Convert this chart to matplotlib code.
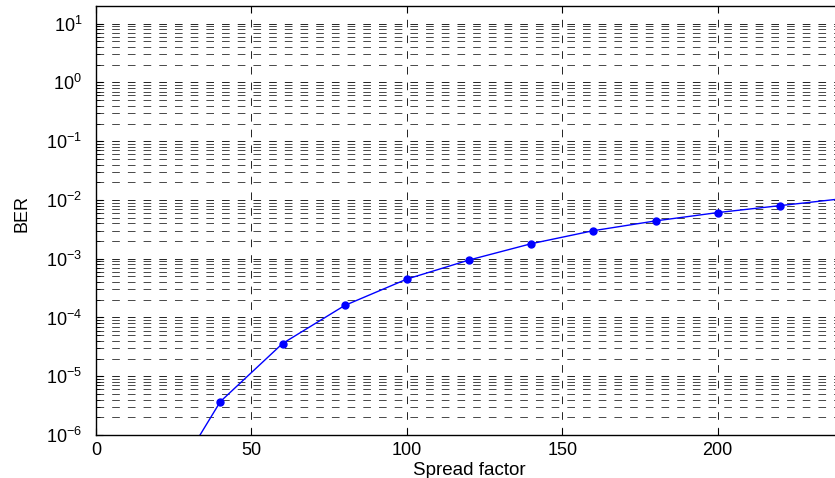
import matplotlib
matplotlib.use("Agg")
import matplotlib.pyplot as plt
from matplotlib.ticker import LogLocator, FixedLocator, NullFormatter

plt.rcParams['font.family'] = ['Liberation Sans', 'DejaVu Sans']
plt.rcParams['mathtext.fontset'] = 'custom'
plt.rcParams['mathtext.rm'] = 'Liberation Sans'
plt.rcParams['lines.scale_dashes'] = False

# simulated BER against spread factor
spread = [40, 60, 80, 100, 120, 140, 160, 180, 200, 220]
ber = [3.7e-6, 3.6e-5, 1.6e-4, 4.5e-4, 9.5e-4, 1.8e-3, 3.0e-3, 4.4e-3, 6.1e-3, 8.0e-3]

# curve drawn under the markers
curve_x = [30, 40, 60, 80, 100, 120, 140, 160, 180, 200, 220, 240]
curve_ber = [5.0e-7, 3.7e-6, 3.6e-5, 1.6e-4, 4.5e-4, 9.5e-4, 1.8e-3, 3.0e-3, 4.4e-3, 6.1e-3, 8.0e-3, 1.05e-2]

x_ticks = [0, 50, 100, 150, 200]

fig = plt.figure(figsize=(8.35, 4.78), dpi=100)
# right edge of the axes sits just past the figure border
ax = fig.add_axes([96 / 835, 43 / 478, 746 / 835, 429 / 478])

ax.semilogy(curve_x, curve_ber, '-', color='#0000ff', lw=1.0)
ax.semilogy(spread, ber, 'o', color='#0000ff', ms=5, mec='#0000ff')

ax.set_xlim(0, 240)
ax.set_ylim(1e-6, 20)

ax.xaxis.set_major_locator(FixedLocator(x_ticks))
ax.yaxis.set_major_locator(LogLocator(base=10, numticks=20))
ax.yaxis.set_minor_locator(LogLocator(base=10, subs=range(2, 10), numticks=20))
ax.yaxis.set_minor_formatter(NullFormatter())

dash = (0, (5.5, 5.8))
ax.grid(True, which='major', axis='both', color='black', lw=0.6, linestyle=dash)
ax.grid(True, which='minor', axis='y', color='black', lw=0.5, linestyle=dash)

ax.tick_params(which='both', direction='in', top=True, right=True, labelsize=13)
ax.tick_params(which='major', length=5, width=0.8)
ax.tick_params(which='minor', length=3, width=0.6)
ax.tick_params(axis='y', pad=10)
ax.tick_params(axis='x', pad=5)
for s in ax.spines.values():
    s.set_linewidth(1.0)

ax.set_xlabel('Spread factor', fontsize=13.5)
ax.set_ylabel('BER', fontsize=13)
ax.xaxis.set_label_coords(0.5, -0.064)
ax.yaxis.set_label_coords(-0.088, 0.517)

fig.savefig('out.png', dpi=100)
